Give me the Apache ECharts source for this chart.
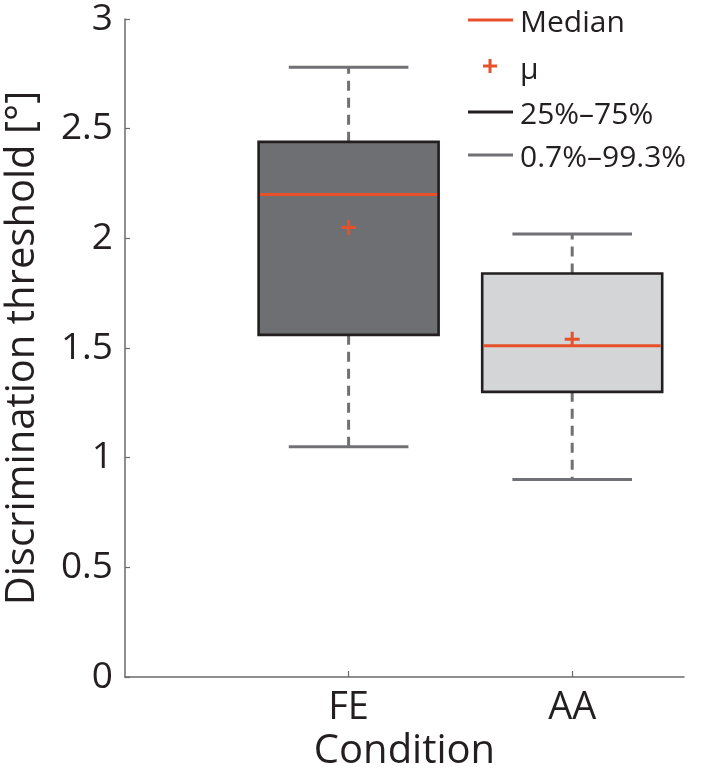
<!DOCTYPE html>
<html>
<head>
<meta charset="utf-8">
<script src="https://cdn.jsdelivr.net/npm/echarts@6/dist/echarts.min.js"></script>
<style>html,body{margin:0;padding:0;background:#fff;}#c{width:708px;height:770px;}</style>
</head>
<body>
<div id="c"></div>
<script>
const categories = ['FE', 'AA'];
const positions = [1, 2];
const lowerWhisker = [1.05, 0.90];
const q1 = [1.56, 1.30];
const median = [2.20, 1.51];
const q3 = [2.44, 1.84];
const upperWhisker = [2.78, 2.02];
const means = [2.05, 1.54];
const boxFills = ['#6e6f72', '#d4d5d7'];
const legendLabels = ['Median', 'μ', '25%–75%', '0.7%–99.3%'];

const FONT = '"Open Sans", "Noto Sans", sans-serif';
const MEDIAN_COLOR = '#e8502a';
const BOX_EDGE = '#231f20';
const WHISK = '#707174';

const chart = echarts.init(document.getElementById('c'), null, {renderer: 'canvas'});

const seriesData = positions.map((p, i) => [p, lowerWhisker[i], q1[i], median[i], q3[i], upperWhisker[i], means[i], i]);

function renderItem(params, api) {
  const x = api.value(0);
  const lw = api.value(1), a = api.value(2), m = api.value(3), b = api.value(4), uw = api.value(5), mu = api.value(6);
  const idx = api.value(7);
  const pLw = api.coord([x, lw]);
  const pQ1 = api.coord([x, a]);
  const pMed = api.coord([x, m]);
  const pQ3 = api.coord([x, b]);
  const pUw = api.coord([x, uw]);
  const pMu = api.coord([x, mu]);
  const boxW = api.size([0.805, 0])[0];
  const capW = api.size([0.535, 0])[0];
  const cx = pMed[0];
  const plus = 7.5;
  return {
    type: 'group',
    children: [
      {type: 'line', shape: {x1: cx, y1: pQ3[1], x2: cx, y2: pUw[1]}, style: {stroke: WHISK, lineWidth: 3, lineDash: [10, 7]}},
      {type: 'line', shape: {x1: cx, y1: pQ1[1], x2: cx, y2: pLw[1]}, style: {stroke: WHISK, lineWidth: 3, lineDash: [10, 7]}},
      {type: 'line', shape: {x1: cx - capW / 2, y1: pUw[1], x2: cx + capW / 2, y2: pUw[1]}, style: {stroke: WHISK, lineWidth: 3}},
      {type: 'line', shape: {x1: cx - capW / 2, y1: pLw[1], x2: cx + capW / 2, y2: pLw[1]}, style: {stroke: WHISK, lineWidth: 3}},
      {type: 'rect', shape: {x: cx - boxW / 2, y: pQ3[1], width: boxW, height: pQ1[1] - pQ3[1]}, style: {fill: boxFills[idx], stroke: BOX_EDGE, lineWidth: 2.6}},
      {type: 'line', shape: {x1: cx - boxW / 2 + 1.5, y1: pMed[1], x2: cx + boxW / 2 - 1.5, y2: pMed[1]}, style: {stroke: MEDIAN_COLOR, lineWidth: 3}},
      {type: 'line', shape: {x1: cx - plus, y1: pMu[1], x2: cx + plus, y2: pMu[1]}, style: {stroke: MEDIAN_COLOR, lineWidth: 3}},
      {type: 'line', shape: {x1: cx, y1: pMu[1] - plus, x2: cx, y2: pMu[1] + plus}, style: {stroke: MEDIAN_COLOR, lineWidth: 3}}
    ]
  };
}

const legendX1 = 468, legendX2 = 513, legendTextX = 520;
const legendRows = [20, 66, 112, 155];
const legendGraphics = [
  {type: 'line', shape: {x1: legendX1, y1: legendRows[0], x2: legendX2, y2: legendRows[0]}, style: {stroke: MEDIAN_COLOR, lineWidth: 3}},
  {type: 'line', shape: {x1: 483, y1: legendRows[1], x2: 497, y2: legendRows[1]}, style: {stroke: MEDIAN_COLOR, lineWidth: 3}},
  {type: 'line', shape: {x1: 490, y1: legendRows[1] - 7, x2: 490, y2: legendRows[1] + 7}, style: {stroke: MEDIAN_COLOR, lineWidth: 3}},
  {type: 'line', shape: {x1: legendX1, y1: legendRows[2], x2: legendX2, y2: legendRows[2]}, style: {stroke: BOX_EDGE, lineWidth: 3}},
  {type: 'line', shape: {x1: legendX1, y1: legendRows[3], x2: legendX2, y2: legendRows[3]}, style: {stroke: WHISK, lineWidth: 3}}
];
legendLabels.forEach((t, i) => {
  legendGraphics.push({
    type: 'text', x: legendTextX, y: legendRows[i] + (i === 1 ? 4 : 3),
    style: {text: t, fill: '#231f20', font: '30px ' + FONT, textVerticalAlign: 'middle', textAlign: 'left'}
  });
});

chart.setOption({
  animation: false,
  backgroundColor: '#fff',
  grid: {left: 125, right: 24, top: 19, bottom: 93, containLabel: false, outerBoundsMode: 'none'},
  xAxis: {
    type: 'value', min: 0, max: 2.5, interval: 1,
    name: 'Condition', nameLocation: 'middle', nameGap: 52,
    nameTextStyle: {fontFamily: FONT, fontSize: 40, color: '#231f20'},
    axisLine: {show: true, lineStyle: {color: '#6a6a6a', width: 1.5}},
    axisTick: {show: true, inside: true, length: 6, customValues: positions, lineStyle: {color: '#6a6a6a', width: 1.2}},
    axisLabel: {customValues: positions, margin: 12, fontFamily: FONT, fontSize: 38, color: '#231f20',
      formatter: v => { const k = positions.indexOf(v); return k >= 0 ? categories[k] : ''; }},
    splitLine: {show: false}
  },
  yAxis: {
    type: 'value', min: 0, max: 3, interval: 0.5,
    name: 'Discrimination threshold [°]', nameLocation: 'middle', nameGap: 82,
    nameTextStyle: {fontFamily: FONT, fontSize: 40, color: '#231f20'},
    axisLine: {show: true, lineStyle: {color: '#6a6a6a', width: 1.5}},
    axisTick: {show: true, inside: true, length: 5, lineStyle: {color: '#6a6a6a', width: 1.2}},
    axisLabel: {margin: 12, fontFamily: FONT, fontSize: 37, color: '#231f20'},
    splitLine: {show: false}
  },
  graphic: legendGraphics,
  series: [{
    type: 'custom',
    renderItem: renderItem,
    data: seriesData,
    encode: {x: 0, y: [1, 2, 3, 4, 5, 6]},
    clip: false
  }]
});
</script>
</body>
</html>
